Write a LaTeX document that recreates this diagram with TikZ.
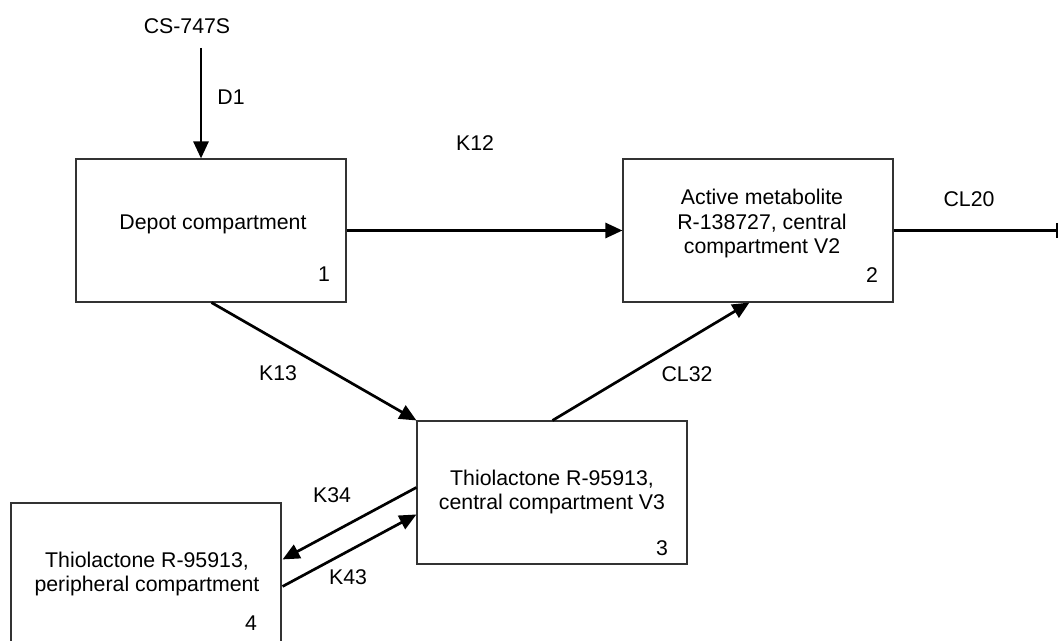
\documentclass[tikz,border=0pt]{standalone}
\usepackage{fontspec}
\setmainfont{Liberation Sans}
\usetikzlibrary{arrows.meta,calc}
\begin{document}
\begin{tikzpicture}[x=0.5pt,y=-0.5pt,
  comp/.style={draw=black!80,line width=0.55pt,minimum width=135pt,minimum height=71.5pt,inner sep=0pt},
  txt/.style={font=\fontsize{10.65}{12.2}\selectfont,align=center,inner sep=0pt},
  flow/.style={line width=1.35pt,-{Triangle[length=8.5pt,width=7.5pt]}},
  flowbar/.style={line width=1.35pt,-{Bar[width=7.5pt,line width=0.8pt]}},
]
\useasboundingbox (0,0) rectangle (1059,641);
\begin{scope}
\clip (0,0) rectangle (1059,641);
% compartments
\node[comp] (b1) at (211,230.5) {};
\node[comp] (b2) at (758,230.5) {};
\node[comp] (b3) at (552,492.5) {};
\node[comp] (b4) at (146,574.5) {};
% box texts
\node[txt] (t1) at (213,224) {Depot compartment};
\node[txt] (t2) at (762,223.5) {Active metabolite\\R-138727, central\\compartment V2};
\node[txt] (t3) at (552,492) {Thiolactone R-95913,\\central compartment V3};
\node[txt] (t4) at (147,574) {Thiolactone R-95913,\\peripheral compartment};
\node[txt] (n1) at (324,274) {1};
\node[txt] (n2) at (872,275) {2};
\node[txt] (n3) at (662,548) {3};
\node[txt] (n4) at (251,623) {4};
% source and sink
\node[txt] (src) at (187,26) {CS-747S};
\coordinate (d1s) at (201,48);
\coordinate (sink) at (1058,230.5);
% connectors
\draw[flow] (d1s) -- (b1.north -| d1s);
\draw[flow] (b1.east) -- (b2.west);
\draw[flowbar] (b2.east) -- (sink);
\draw[flow] ($(b1.south west)+(136,0)$) -- (b3.north west);
\draw[flow] ($(b3.north west)+(136,0)$) -- ($(b2.south west)+(127,0)$);
\draw[flow] ($(b3.north west)+(0,67)$) -- ($(b4.north east)+(1,57)$);
\draw[flow] ($(b4.north east)+(1,84)$) -- ($(b3.north west)+(0,94)$);
% labels
\node[txt] (lD1) at (231,97) {D1};
\node[txt] (lK12) at (475,143) {K12};
\node[txt] (lCL20) at (969,199) {CL20};
\node[txt] (lK13) at (278,373) {K13};
\node[txt] (lCL32) at (687,374) {CL32};
\node[txt] (lK34) at (332,495) {K34};
\node[txt] (lK43) at (348,577) {K43};
\end{scope}
\end{tikzpicture}
\end{document}
